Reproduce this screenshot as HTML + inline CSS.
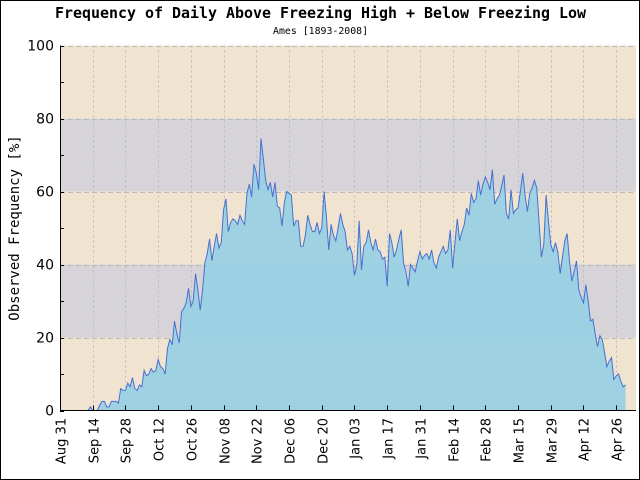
<!DOCTYPE html>
<html><head><meta charset="utf-8"><style>
body{margin:0;background:#fff}
svg{display:block}
.mono{font-family:"DejaVu Sans Mono","Liberation Mono",monospace}
.sans{font-family:"DejaVu Sans","Liberation Sans",sans-serif}
</style></head><body>
<svg id="chart" width="640" height="480" viewBox="0 0 640 480" xmlns="http://www.w3.org/2000/svg">
<rect x="0.5" y="0.5" width="639" height="479" fill="#fff" stroke="#000"/>
<g id="bands"></g><g id="grid"></g><g id="series"></g><g id="axes"></g>
<text class="mono" x="55" y="18" font-size="15" font-weight="bold" textLength="531" lengthAdjust="spacingAndGlyphs">Frequency of Daily Above Freezing High + Below Freezing Low</text>
<text class="mono" x="273" y="34" font-size="10" textLength="95" lengthAdjust="spacingAndGlyphs">Ames [1893-2008]</text>
<text class="mono" transform="translate(19,228) rotate(-90)" font-size="14" text-anchor="middle">Observed Frequency [%]</text>
</svg>
<script>
const values = [0,0,0,0,0,0,0,0,0,0,0,0,0,1,0,0,0,1.5,2.5,2.5,1,1,2.5,2.5,2.5,2,6,5.5,5.5,7.5,6.5,9,6,5.5,7,6.5,11,9.5,10,11.5,10.5,11,14,12,11.5,10,17,19.5,18,24.5,21,18.5,27,28,29.5,33.5,28.5,30,37.5,33,27.5,33,40.5,43,47,41,45,48.5,44.5,46,55,58,49,51.5,52.5,52,51,53.5,52,51,59.5,62,58.5,67.5,65,60.5,74.5,69,63,60.5,62.5,58.5,62.5,56,55.5,50.5,57,60,59.5,59,50.5,52,52,45,45,48,53.5,51,49,49,51.5,48.5,50,60,53,44,51,48,46.5,50,54,51,49,44,45,43,37,40,52,38.5,45,46,49.5,46,44,47,44,43.5,41.5,42,34,48.5,46,42,44,47,49.5,40.5,38,34,40,39,38,41,43.5,41.5,42.5,43,41.5,44,40.5,39,42,43.5,45,43,44,49.5,39,46,52.5,46.5,49,51,55.5,53.5,59.5,57,58,63,59,62,64,62.5,60.5,66,56.5,58,59,61.5,64.5,54,52.5,60.5,54,55,55.5,60,65,59,54.5,59.5,61,63,61,51.5,42,45.5,59,52,45.5,43.5,46,43.5,37.5,42,46.5,48.5,41,35.5,38,41,33,31,29.5,34.5,30,24.5,25,21,17.5,20.5,19.5,16,12,13.5,14.5,8.5,9.5,10,8,6.5,7];
const xTickLabels = ["Aug 31","Sep 14","Sep 28","Oct 12","Oct 26","Nov 08","Nov 22","Dec 06","Dec 20","Jan 03","Jan 17","Jan 31","Feb 14","Feb 28","Mar 15","Mar 29","Apr 12","Apr 26"];
const xTickDays = [0,14,28,42,56,70,84,98,112,126,140,154,168,182,196,210,224,238];
const yTicks = [0,20,40,60,80,100];
const bandColors = ["#f0e4d0","#d6d4d9"];
const L=60,R=636,T=45.5,B=410.5;
const NS="http://www.w3.org/2000/svg";
function xs(d){return L+d*2.337;}
function ys(v){return B-(v/100)*(B-T);}
function mk(tag,attrs,parent){const e=document.createElementNS(NS,tag);for(const k in attrs)e.setAttribute(k,attrs[k]);parent.appendChild(e);return e;}
const bands=document.getElementById('bands'),grid=document.getElementById('grid'),series=document.getElementById('series'),axes=document.getElementById('axes');
for(let i=0;i<yTicks.length-1;i++){
  const r=mk('rect',{x:L,y:ys(yTicks[i+1]),width:R-L,height:ys(yTicks[i])-ys(yTicks[i+1]),fill:bandColors[i%2]},bands);
  
  
}
for(let i=1;i<xTickDays.length;i++){
  const x=Math.round(xs(xTickDays[i]))+0.5;
  const g=mk('line',{x1:x,x2:x,y1:T,y2:B,stroke:'#bbb','stroke-dasharray':'2,3'},grid);
  
  
}
for(let i=1;i<yTicks.length;i++){
  const y=Math.round(ys(yTicks[i]))+0.5;
  const g=mk('line',{x1:L,x2:R,y1:y,y2:y,stroke:'#bbb','stroke-dasharray':'5,3'},grid);
  
  
}
let pts=[];
values.forEach((v,i)=>pts.push(xs(i).toFixed(2)+','+ys(v).toFixed(2)));
const last=values.length-1;
const area=mk('polygon',{points:xs(0)+','+B+' '+pts.join(' ')+' '+xs(last)+','+B,fill:'#99d1e4','fill-opacity':'0.95'},series);


const line=mk('polyline',{points:pts.join(' '),fill:'none',stroke:'#4a6fcf','stroke-width':'1'},series);


const ya=mk('line',{x1:L+0.5,x2:L+0.5,y1:T,y2:B+0.5,stroke:'#000'},axes);


const xa=mk('line',{x1:L,x2:R,y1:B,y2:B,stroke:'#000'},axes);


for(let v=0;v<=100;v+=10){
  const y=Math.round(ys(v))+0.5;
  const t=mk('line',{x1:L,x2:L+4,y1:y,y2:y,stroke:'#000'},axes);
  
  
}
yTicks.forEach(v=>{
  const t=mk('text',{x:54,y:ys(v)+5,'font-size':'14','text-anchor':'end','class':'sans'},axes);
  t.textContent=v;
  
  
});
xTickDays.forEach((d,i)=>{
  const x=Math.round(xs(d))+0.5;
  const t=mk('line',{x1:x,x2:x,y1:B-5,y2:B,stroke:'#000'},axes);
  
  
  const lb=mk('text',{transform:'translate('+(x+5)+',418) rotate(-90)','font-size':'13','text-anchor':'end','class':'sans'},axes);
  lb.textContent=xTickLabels[i];
  
  
});
</script>
</body></html>
